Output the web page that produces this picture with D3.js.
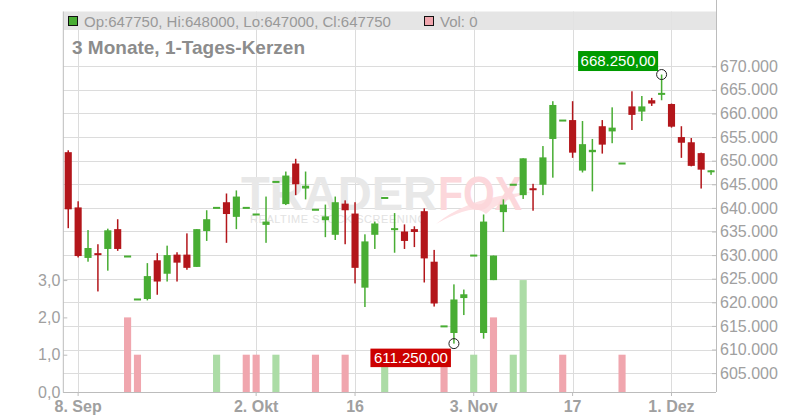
<!DOCTYPE html>
<html><head><meta charset="utf-8">
<script src="https://cdn.jsdelivr.net/npm/d3@7"></script>
<style>
body{margin:0;background:#fff;}
svg{display:block;font-family:"Liberation Sans",Arial,sans-serif;}
</style>
</head><body>
<svg id="c" width="800" height="420"></svg>
<script>
// ---------- data ----------
const dates = [
"2025-09-05",
"2025-09-08","2025-09-09","2025-09-10","2025-09-11","2025-09-12",
"2025-09-15","2025-09-16","2025-09-17","2025-09-18","2025-09-19",
"2025-09-22","2025-09-23","2025-09-24","2025-09-25","2025-09-26",
"2025-09-29","2025-09-30","2025-10-01","2025-10-02","2025-10-03",
"2025-10-06","2025-10-07","2025-10-08","2025-10-09","2025-10-10",
"2025-10-13","2025-10-14","2025-10-15","2025-10-16","2025-10-17",
"2025-10-20","2025-10-21","2025-10-22","2025-10-23","2025-10-24",
"2025-10-27","2025-10-28","2025-10-29","2025-10-30","2025-10-31",
"2025-11-03","2025-11-04","2025-11-05","2025-11-06","2025-11-07",
"2025-11-10","2025-11-11","2025-11-12","2025-11-13","2025-11-14",
"2025-11-17","2025-11-18","2025-11-19","2025-11-20","2025-11-21",
"2025-11-24","2025-11-25","2025-11-26","2025-11-27","2025-11-28",
"2025-12-01","2025-12-02","2025-12-03","2025-12-04","2025-12-05"];

const open = [651800,640100,629400,630400,631300,635500,629700,620600,620700,628900,
626050,630100,630100,627500,635100,640000,641200,638100,640000,638600,
636400,645500,640800,649400,644100,639600,637400,634300,640900,638800,
623100,634300,642100,635300,635000,635500,639300,628600,614900,613500,
620900,629900,613500,624700,639100,644900,642700,644100,644900,654600,
658500,658600,647900,651800,657300,656200,649400,661500,660400,662800,
664000,662000,655000,653900,651600,647750];
const high = [652200,641400,635300,632300,635600,637600,629700,620600,628300,630400,
632000,630600,634600,635500,639500,640000,643050,643700,640000,638600,
642400,645500,647700,650400,647700,639600,640700,642400,641600,641200,
634400,637100,642100,638900,636500,636100,639900,631100,614900,623800,
622700,629900,638600,629900,641800,644900,650500,645100,653100,662600,
658500,662600,658400,654600,658600,661300,649400,664700,663700,663300,
668250,662100,657300,654800,651700,648000];
const low = [635700,629500,628600,622300,626700,630900,629700,620600,620400,621600,
624400,624400,626900,627500,633000,640000,632600,635500,640000,638600,
632600,645500,640600,642700,641800,639600,633800,633200,632300,624000,
619000,631300,642100,630500,631300,631700,624200,619100,614900,611250,
617300,629900,612300,624700,634900,644900,641900,639400,642700,646400,
658500,650600,647500,643500,651500,653700,649400,656500,658400,661600,
662800,657000,650600,648800,644100,647000];
const close = [639700,629800,631500,630000,635250,631300,629700,620600,625550,624400,
630000,628400,627300,635500,637600,640000,638700,642400,640000,638600,
637100,645500,646850,645000,644700,639600,638200,641200,639500,627300,
632900,636700,642100,635700,633000,634900,629300,619750,614900,620600,
621700,629900,637100,629900,640700,644900,650500,643800,650700,661800,
658500,651700,653500,652300,653400,657000,649400,659700,661500,662100,
664300,657200,653800,648900,648100,647750];

const volume = [0,0,0,0,0,0,2,1,0,0,
0,0,0,0,0,1,0,0,1,1,
0,1,0,0,0,1,0,0,1,0,
0,0,1,0,0,0,0,0,1,0,
0,1,0,2,0,1,3,0,0,0,
1,0,0,0,0,0,1,0,0,0,
0,0,0,0,0,0];
const volumeUp = [0,0,0,0,0,0,0,0,0,0,
0,0,0,0,0,1,0,0,0,0,
0,1,0,0,0,0,0,0,0,0,
0,0,1,0,0,0,0,0,0,0,
0,1,0,0,0,1,1,0,0,0,
0,0,0,0,0,0,0,0,0,0,
0,0,0,0,0,0];

const priceTicks = [605000,610000,615000,620000,625000,630000,635000,640000,645000,650000,655000,660000,665000,670000];
const volumeTicks = [0,1,2,3];
const tickDates = ["2025-09-08","2025-10-02","2025-10-16","2025-11-03","2025-11-17","2025-12-01"];
const tickLabels = ["8. Sep","2. Okt","16","3. Nov","17","1. Dez"];
const headerText = "Op:647750, Hi:648000, Lo:647000, Cl:647750";
const volText = "Vol: 0";
const titleText = "3 Monate, 1-Tages-Kerzen";

// ---------- setup ----------
const de = d3.formatLocale({decimal:",", thousands:".", grouping:[3], currency:["","€"]});
const fmtPrice = de.format(",d");
const fmtLabel = de.format(",.2f");
const fmtVol = de.format(".1f");

const L = 63.3, R = 716, T = 11.5, B = 392;
const GREEN = "#48ad33", RED = "#b3161b";
const VGREEN = "#acdca6", VRED = "#f0a6ae";
const GRID = "#dcdcdc", AXIS = "#bcbcbc", TXT = "#a0a0a0";

const svg = d3.select("#c");
const x = d3.scaleBand().domain(dates).range([L, R]).padding(0);
const bw = x.bandwidth();
const cx = d => x(d) + bw / 2;
const y = d3.scaleLinear().domain([601000, 681600]).range([B, T]);
const v = d3.scaleLinear().domain([0, 10.2]).range([B, T]);

// grid
const grid = svg.append("g");
grid.selectAll("line.h").data(priceTicks).join("line")
  .attr("x1", L).attr("x2", R).attr("y1", d => Math.round(y(d)) + 0.5).attr("y2", d => Math.round(y(d)) + 0.5)
  .attr("stroke", GRID).attr("stroke-width", 1);
grid.selectAll("line.v").data(tickDates).join("line")
  .attr("x1", d => Math.round(cx(d)) + 0.5).attr("x2", d => Math.round(cx(d)) + 0.5)
  .attr("y1", T).attr("y2", B).attr("stroke", GRID).attr("stroke-width", 1);

// watermark
const wm = svg.append("g");
wm.append("text").attr("x", 241).attr("y", 210).attr("font-size", 48).attr("font-weight", "bold")
  .attr("fill", "#e8e8e8").attr("textLength", 196).attr("lengthAdjust", "spacingAndGlyphs").text("TRADER");
wm.append("path").attr("d", "M436,224 Q470,196 532,192 Q500,200 486,214 Q478,206 462,212 Q450,216 436,224 Z")
  .attr("fill", "#fde0e3");
wm.append("text").attr("x", 438).attr("y", 210).attr("font-size", 48).attr("font-weight", "bold")
  .attr("fill", "#fcd7db").attr("textLength", 84).attr("lengthAdjust", "spacingAndGlyphs").text("FOX");
wm.append("text").attr("x", 250).attr("y", 223).attr("font-size", 11)
  .attr("fill", "#e2e2e2").attr("textLength", 176).attr("lengthAdjust", "spacing").text("REALTIME STOCK SCREENING");

// volume
const vw = bw * 0.72;
svg.append("g").selectAll("rect").data(dates.map((d, i) => ({d, i})).filter(o => volume[o.i] > 0)).join("rect")
  .attr("x", o => cx(o.d) - vw / 2).attr("width", vw)
  .attr("y", o => v(volume[o.i])).attr("height", o => B - v(volume[o.i]))
  .attr("fill", o => volumeUp[o.i] ? VGREEN : VRED);

// candles
const cw = bw * 0.72;
const cg = svg.append("g").selectAll("g").data(dates.map((d, i) => ({d, i}))).join("g");
cg.each(function(o) {
  const g = d3.select(this), i = o.i;
  const col = close[i] >= open[i] ? GREEN : RED;
  const xc = cx(o.d);
  if (high[i] > low[i]) {
    g.append("rect").attr("x", xc - 0.75).attr("width", 1.5)
      .attr("y", y(high[i])).attr("height", y(low[i]) - y(high[i])).attr("fill", col);
  }
  const top = y(Math.max(open[i], close[i])), bot = y(Math.min(open[i], close[i]));
  let h = bot - top, yt = top;
  if (h < 2) { yt = (top + bot) / 2 - 1; h = 2; }
  g.append("rect").attr("x", xc - cw / 2).attr("width", cw).attr("y", yt).attr("height", h).attr("fill", col);
});

// header bar
svg.append("rect").attr("x", L).attr("y", T).attr("width", R - L).attr("height", 18.5)
  .attr("fill", "#e2e2e2").attr("fill-opacity", 0.9);
svg.append("rect").attr("x", 68.5).attr("y", 16.5).attr("width", 9).attr("height", 9)
  .attr("fill", GREEN).attr("stroke", "#111").attr("stroke-width", 1);
svg.append("text").attr("x", 84).attr("y", 26.5).attr("font-size", 15).attr("fill", "#999").text(headerText);
svg.append("rect").attr("x", 424.5).attr("y", 16.5).attr("width", 9).attr("height", 9)
  .attr("fill", VRED).attr("stroke", "#111").attr("stroke-width", 1);
svg.append("text").attr("x", 440).attr("y", 26.5).attr("font-size", 15).attr("fill", "#999").text(volText);

// title
svg.append("text").attr("x", 72).attr("y", 54).attr("font-size", 19).attr("font-weight", "bold")
  .attr("fill", "#8c8c8c").text(titleText);

// axes
const ra = svg.append("g").attr("transform", `translate(${R},0)`)
  .call(d3.axisRight(y).tickValues(priceTicks).tickSize(-4).tickSizeOuter(0).tickPadding(4).tickFormat(fmtPrice));
const la = svg.append("g").attr("transform", `translate(${L},0)`)
  .call(d3.axisLeft(v).tickValues(volumeTicks).tickSize(-4).tickSizeOuter(0).tickPadding(3).tickFormat(fmtVol));
const ba = svg.append("g").attr("transform", `translate(0,${B})`)
  .call(d3.axisBottom(x).tickValues(tickDates).tickSize(4).tickSizeOuter(0).tickPadding(5)
    .tickFormat((d, i) => tickLabels[i]));
[ra, la, ba].forEach(a => {
  a.select(".domain").remove();
  a.selectAll(".tick line").attr("stroke", AXIS);
  a.selectAll(".tick text").attr("fill", TXT).attr("font-size", 16).attr("font-family", "Liberation Sans, Arial, sans-serif");
});
ba.selectAll(".tick text").attr("font-weight", "bold");
svg.append("line").attr("x1", R + 0.5).attr("x2", R + 0.5).attr("y1", 0).attr("y2", B).attr("stroke", AXIS);
svg.append("line").attr("x1", L).attr("x2", L).attr("y1", T).attr("y2", B + 0.5).attr("stroke", AXIS);
svg.append("line").attr("x1", L).attr("x2", R).attr("y1", B + 0.5).attr("y2", B + 0.5).attr("stroke", AXIS);

// high / low annotations
const hi = d3.maxIndex(high), lo = d3.minIndex(low);
const hx = cx(dates[hi]), hy = y(high[hi]);
const lx = cx(dates[lo]), ly = y(low[lo]);
const ann = svg.append("g").attr("font-size", 15).attr("fill", "#fff");
ann.append("rect").attr("x", hx - 3.5 - 80).attr("y", hy - 23.5).attr("width", 80).attr("height", 20).attr("fill", "#009a00");
ann.append("text").attr("x", hx - 3.5 - 40).attr("y", hy - 8.3).attr("text-anchor", "middle").text(fmtLabel(high[hi]));
ann.append("circle").attr("cx", hx).attr("cy", hy).attr("r", 5).attr("fill", "none").attr("stroke", "#222").attr("stroke-width", 1);
ann.append("rect").attr("x", lx - 3 - 80.5).attr("y", ly + 5).attr("width", 80.5).attr("height", 18.5).attr("fill", "#cc0000");
ann.append("text").attr("x", lx - 3 - 40).attr("y", ly + 19.5).attr("text-anchor", "middle").text(fmtLabel(low[lo]));
ann.append("circle").attr("cx", lx).attr("cy", ly).attr("r", 5).attr("fill", "none").attr("stroke", "#222").attr("stroke-width", 1);
</script>
</body></html>
